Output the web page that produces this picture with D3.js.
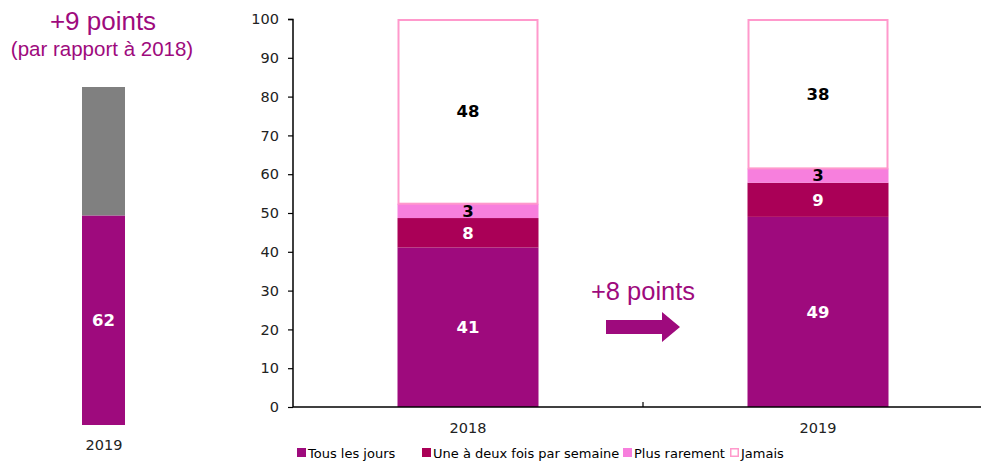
<!DOCTYPE html>
<html>
<head>
<meta charset="utf-8">
<script src="https://cdn.jsdelivr.net/npm/d3@7"></script>
<style>
  body { margin: 0; background: #fff; }
  svg { display: block; }
</style>
</head>
<body>
<svg id="chart" width="981" height="463"></svg>
<script>
// data
var years = ["2018", "2019"];
var series = ["Tous les jours", "Une à deux fois par semaine", "Plus rarement", "Jamais"];
var values2018 = [41.1, 7.6, 3.7, 47.6];
var values2019 = [49.0, 8.8, 3.7, 38.5];
var labels2018 = ["41", "8", "3", "48"];
var labels2019 = ["49", "9", "3", "38"];
var yTicks = [0, 10, 20, 30, 40, 50, 60, 70, 80, 90, 100];
var sideYear = "2019";
var sideValues = [62, 38];
var sideLabels = ["62", ""];

var colors = ["#9E0A7D", "#AA0057", "#F77FDD", "#FFFFFF"];
var strokeJamais = "#FF99CC";
var purple = "#9E0A7D";
var font = "DejaVu Sans, Verdana, sans-serif";

var svg = d3.select("#chart");

// main chart
var y = d3.scaleLinear().domain([0, 100]).range([407, 19]);
var x = d3.scaleBand().domain(years).range([293, 993]).padding(0);
var barW = 141;

var rows = [values2018, values2019];
var rowLabels = [labels2018, labels2019];

var stacked = years.map(function(yr, i) {
  var acc = 0;
  return rows[i].map(function(v, j) {
    var d = { year: yr, key: series[j], y0: acc, y1: acc + v, label: rowLabels[i][j], idx: j };
    acc += v;
    return d;
  });
});

// y axis
var yAxis = d3.axisLeft(y).tickValues(yTicks).tickSize(5).tickPadding(9);
var gy = svg.append("g").attr("transform", "translate(293,0)").call(yAxis);
gy.select(".domain").attr("stroke", "#000").attr("stroke-width", 1.5).attr("d", "M-5,19.5H0V407");
gy.selectAll(".tick line").attr("stroke", "#000").attr("stroke-width", 1.2);
gy.selectAll(".tick text")
  .attr("font-family", font)
  .attr("font-size", 14.5)
  .attr("fill", "#222");

// bars
var bars = svg.append("g");
stacked.forEach(function(col) {
  bars.selectAll(null)
    .data(col)
    .enter().append("rect")
      .attr("x", function(d) { return x(d.year) + (x.bandwidth() - barW) / 2 + (d.idx === 3 ? 1 : 0); })
      .attr("y", function(d) { return y(d.y1) + (d.idx === 3 ? 1 : 0); })
      .attr("width", function(d) { return d.idx === 3 ? barW - 2 : barW; })
      .attr("height", function(d) { return y(d.y0) - y(d.y1) - (d.idx === 3 ? 1 : 0); })
      .attr("fill", function(d) { return colors[d.idx]; })
      .attr("stroke", function(d) { return d.idx === 3 ? strokeJamais : "none"; })
      .attr("stroke-width", 2);

  bars.selectAll(null)
    .data(col)
    .enter().append("text")
      .attr("x", function(d) { return x(d.year) + x.bandwidth() / 2; })
      .attr("y", function(d) { return (y(d.y0) + y(d.y1)) / 2; })
      .attr("dy", "0.36em")
      .attr("text-anchor", "middle")
      .attr("font-family", font)
      .attr("font-weight", "bold")
      .attr("font-size", 16.5)
      .attr("fill", function(d) { return d.idx < 2 ? "#fff" : "#000"; })
      .text(function(d) { return d.label; });
});

// x axis
var gx = svg.append("g").attr("transform", "translate(0,407)");
gx.append("line").attr("x1", 293).attr("x2", 981).attr("y1", 0).attr("y2", 0)
  .attr("stroke", "#000").attr("stroke-width", 1.5);
gx.selectAll(null)
  .data([x("2019")])
  .enter().append("line")
    .attr("x1", function(d) { return d; }).attr("x2", function(d) { return d; })
    .attr("y1", 0).attr("y2", -5)
    .attr("stroke", "#000").attr("stroke-width", 1.2);
gx.selectAll(null)
  .data(years)
  .enter().append("text")
    .attr("x", function(d) { return x(d) + x.bandwidth() / 2; })
    .attr("y", 26)
    .attr("text-anchor", "middle")
    .attr("font-family", font)
    .attr("font-size", 14.5)
    .attr("fill", "#222")
    .text(function(d) { return d; });

// +8 points arrow
svg.append("text")
  .attr("x", 643).attr("y", 300)
  .attr("text-anchor", "middle")
  .attr("font-family", "Liberation Sans, Arial, sans-serif")
  .attr("font-size", 25.5)
  .attr("fill", purple)
  .text("+8 points");
svg.append("path")
  .attr("d", "M606,320H662V312L680,327L662,342V334H606Z")
  .attr("fill", purple);

// side bar
var ys = d3.scaleLinear().domain([0, 100]).range([425, 87]);
var acc = 0;
var side = sideValues.map(function(v, j) {
  var d = { y0: acc, y1: acc + v, label: sideLabels[j], idx: j };
  acc += v;
  return d;
});
var sideColors = [purple, "#808080"];
svg.append("g").selectAll("rect")
  .data(side)
  .enter().append("rect")
    .attr("x", 82).attr("width", 43)
    .attr("y", function(d) { return ys(d.y1); })
    .attr("height", function(d) { return ys(d.y0) - ys(d.y1); })
    .attr("fill", function(d) { return sideColors[d.idx]; });
svg.append("g").selectAll("text")
  .data(side)
  .enter().append("text")
    .attr("x", 103.5)
    .attr("y", function(d) { return (ys(d.y0) + ys(d.y1)) / 2; })
    .attr("dy", "0.36em")
    .attr("text-anchor", "middle")
    .attr("font-family", font)
    .attr("font-weight", "bold")
    .attr("font-size", 16.5)
    .attr("fill", "#fff")
    .text(function(d) { return d.label; });
svg.append("text")
  .attr("x", 104).attr("y", 450)
  .attr("text-anchor", "middle")
  .attr("font-family", font)
  .attr("font-size", 14.5)
  .attr("fill", "#222")
  .text(sideYear);

svg.append("text")
  .attr("x", 103).attr("y", 30)
  .attr("text-anchor", "middle")
  .attr("font-family", "Liberation Sans, Arial, sans-serif")
  .attr("font-size", 26)
  .attr("fill", purple)
  .text("+9 points");
svg.append("text")
  .attr("x", 102).attr("y", 56)
  .attr("text-anchor", "middle")
  .attr("font-family", "Liberation Sans, Arial, sans-serif")
  .attr("font-size", 20.5)
  .attr("fill", purple)
  .text("(par rapport à 2018)");

// legend
var legendX = [297, 422, 623, 730];
var leg = svg.append("g").selectAll("g")
  .data(series)
  .enter().append("g")
    .attr("transform", function(d, i) { return "translate(" + legendX[i] + ",448)"; });
leg.append("rect")
  .attr("x", function(d, i) { return i === 3 ? 0.75 : 0; })
  .attr("y", function(d, i) { return i === 3 ? 0.75 : 0; })
  .attr("width", function(d, i) { return i === 3 ? 7.5 : 9; })
  .attr("height", function(d, i) { return i === 3 ? 7.5 : 9; })
  .attr("fill", function(d, i) { return colors[i]; })
  .attr("stroke", function(d, i) { return i === 3 ? strokeJamais : "none"; })
  .attr("stroke-width", 1.5);
leg.append("text")
  .attr("x", 11).attr("y", 10)
  .attr("font-family", font)
  .attr("font-size", 13)
  .attr("fill", "#000")
  .text(function(d) { return d; });
</script>
</body>
</html>
